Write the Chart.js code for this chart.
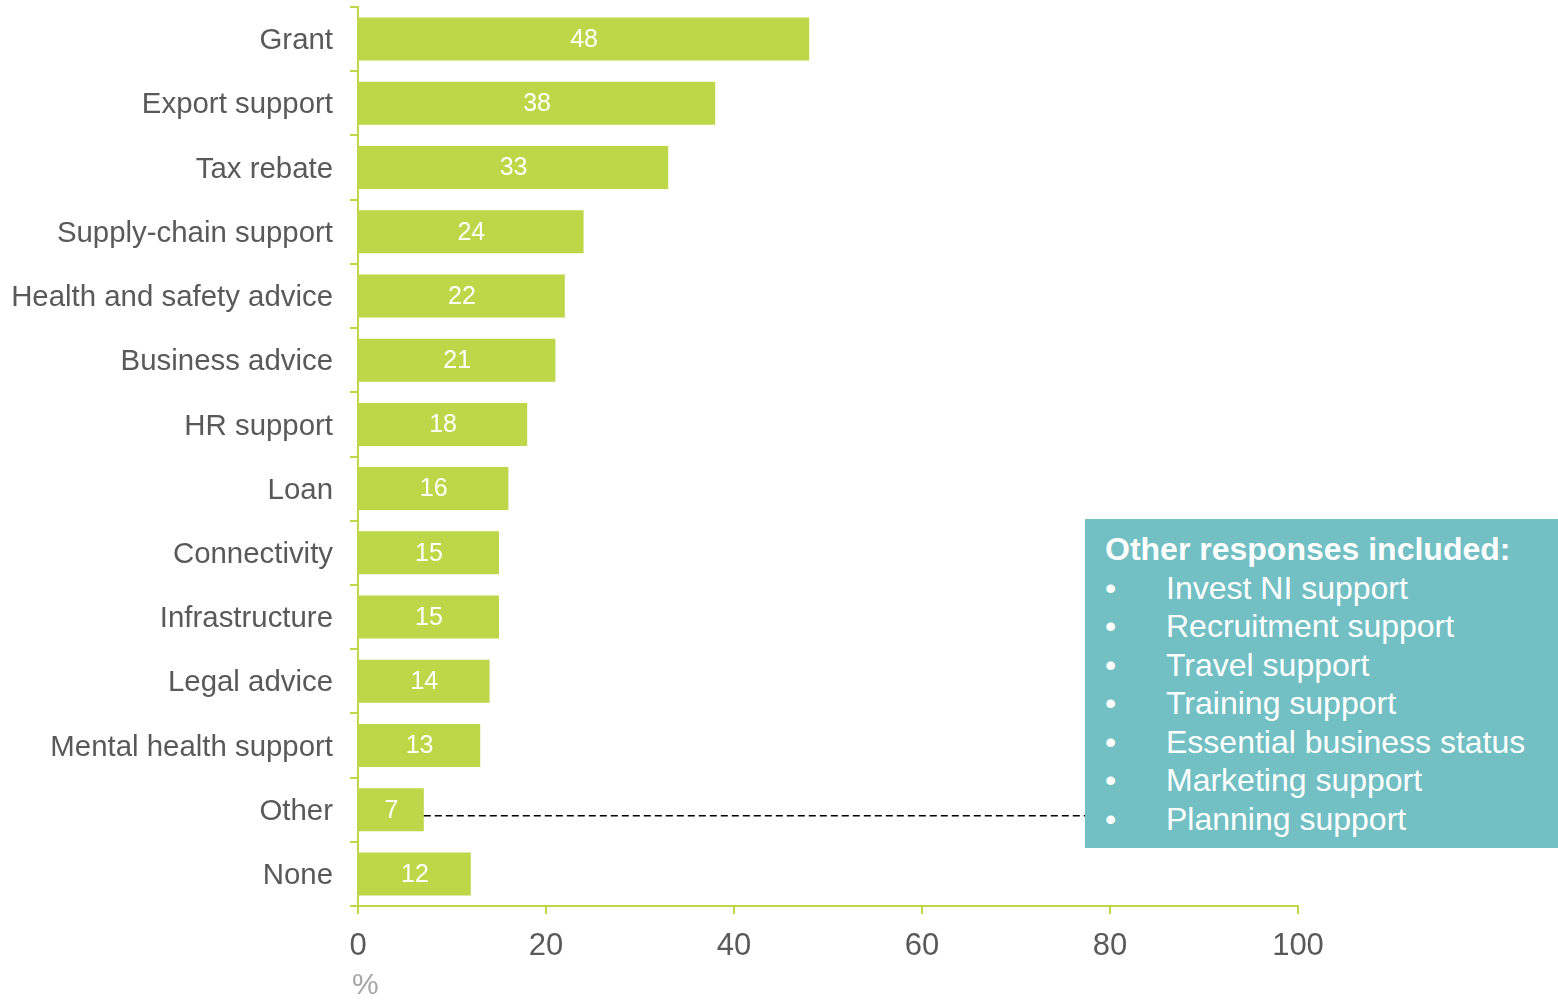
<!DOCTYPE html>
<html>
<head>
<meta charset="utf-8">
<script src="https://cdn.jsdelivr.net/npm/chart.js@4/dist/chart.umd.min.js"></script>
<style>
  html, body { margin: 0; padding: 0; background: #ffffff; }
  #wrap { position: relative; width: 1558px; height: 1000px; font-family: "Liberation Sans", Arial, sans-serif; }
  #note { position: absolute; left: 1085px; top: 519px; width: 473px; height: 329px; background: #72BFC4; color: #ffffff; box-sizing: border-box; padding: 11px 0 0 20px; font-size: 32px; line-height: 38.5px; }
  #note .t { font-weight: bold; }
  #note ul { list-style: none; margin: 0; padding: 0; }
  #note li { position: relative; padding-left: 61px; white-space: nowrap; }
  #note li::before { content: "\2022"; position: absolute; left: 0; top: 0; }
</style>
</head>
<body>
<div id="wrap">
  <canvas id="c" width="1558" height="1000"></canvas>
  <div id="note">
    <div class="t" id="noteTitle"></div>
    <ul id="noteList"></ul>
  </div>
</div>
<script>
const categories = ["Grant", "Export support", "Tax rebate", "Supply-chain support", "Health and safety advice", "Business advice", "HR support", "Loan", "Connectivity", "Infrastructure", "Legal advice", "Mental health support", "Other", "None"];
const values = [48, 38, 33, 24, 22, 21, 18, 16, 15, 15, 14, 13, 7, 12];
const xTicks = [0, 20, 40, 60, 80, 100];
const axisTitle = "%";
const noteTitle = "Other responses included:";
const noteItems = ["Invest NI support", "Recruitment support", "Travel support", "Training support", "Essential business status", "Marketing support", "Planning support"];
const calloutCategory = "Other";

document.getElementById('noteTitle').textContent = noteTitle;
const ul = document.getElementById('noteList');
noteItems.forEach(t => { const li = document.createElement('li'); li.textContent = t; ul.appendChild(li); });

const FONT = '"Liberation Sans", Arial, sans-serif';
const GREEN = '#BDD748';

const labelPlugin = {
  id: 'barLabels',
  afterDatasetsDraw(chart) {
    const ctx = chart.ctx;
    const meta = chart.getDatasetMeta(0);
    ctx.save();
    ctx.fillStyle = '#ffffff';
    ctx.font = '25px ' + FONT;
    ctx.textAlign = 'center';
    ctx.textBaseline = 'middle';
    meta.data.forEach((bar, i) => {
      const p = bar.getProps(['x', 'y', 'base'], true);
      ctx.fillText(String(values[i]), (p.x + p.base) / 2, p.y + 1);
    });
    // dashed callout line from "Other" bar to note box
    const idx = categories.indexOf(calloutCategory);
    const bar = meta.data[idx];
    const p = bar.getProps(['x', 'y'], true);
    const boxLeft = document.getElementById('note').offsetLeft;
    ctx.strokeStyle = '#000000';
    ctx.lineWidth = 1.6;
    ctx.setLineDash([7, 4]);
    ctx.beginPath();
    ctx.moveTo(p.x, p.y + 6);
    ctx.lineTo(boxLeft, p.y + 6);
    ctx.stroke();
    // axis unit label under the zero tick
    const xs = chart.scales.x;
    ctx.setLineDash([]);
    ctx.fillStyle = '#A6A6A6';
    ctx.font = '30px ' + FONT;
    ctx.textAlign = 'left';
    ctx.textBaseline = 'middle';
    ctx.fillText(axisTitle, xs.getPixelForValue(0) - 6, 986);
    ctx.restore();
  }
};

new Chart(document.getElementById('c'), {
  type: 'bar',
  data: {
    labels: categories,
    datasets: [{
      data: values,
      backgroundColor: GREEN,
      borderWidth: 0,
      barPercentage: 0.67,
      categoryPercentage: 1.0
    }]
  },
  options: {
    indexAxis: 'y',
    responsive: false,
    devicePixelRatio: 1,
    animation: false,
    layout: { padding: { top: 7, right: 260, left: 0, bottom: 0 } },
    plugins: { legend: { display: false }, tooltip: { enabled: false } },
    scales: {
      x: {
        min: 0,
        max: 100,
        afterBuildTicks(scale) { scale.ticks = xTicks.map(v => ({ value: v })); },
        afterFit(scale) { scale.height = 94; scale.paddingLeft = 0; scale.paddingRight = 0; },
        grid: { drawOnChartArea: false, drawTicks: true, tickLength: 8, color: GREEN, lineWidth: 2 },
        border: { color: GREEN, width: 2 },
        ticks: { color: '#595959', font: { family: FONT, size: 31 }, padding: 14, maxRotation: 0 }
      },
      y: {
        afterFit(scale) { scale.width = 358; scale.paddingTop = 0; scale.paddingBottom = 0; },
        grid: { drawOnChartArea: false, drawTicks: true, tickLength: 8, offset: true, color: GREEN, lineWidth: 2 },
        border: { color: GREEN, width: 2 },
        ticks: { color: '#595959', font: { family: FONT, size: 29.4 }, padding: 17, labelOffset: 2 }
      }
    }
  },
  plugins: [labelPlugin]
});
</script>
</body>
</html>
